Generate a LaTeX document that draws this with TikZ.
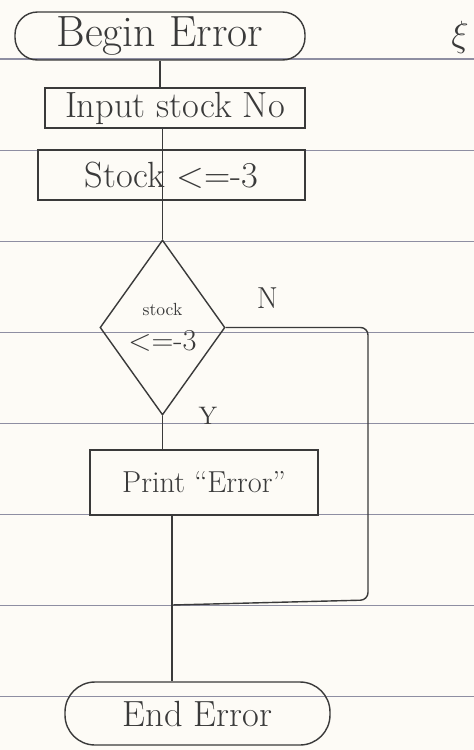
\documentclass[tikz,border=0pt]{standalone}
\usepackage{tikz}
\usepackage{xcolor}
\usetikzlibrary{shapes.geometric}
\usetikzlibrary{positioning}
\usetikzlibrary{arrows,calc}

\definecolor{paper}{HTML}{FDFBF6}
\definecolor{rule}{HTML}{8E8EA2}
\definecolor{pen}{HTML}{3A3A3A}

\begin{document}
\begin{tikzpicture} [
       auto,
       terminal/.style={rectangle, draw=pen, thick, text=pen, rounded corners=0.45cm,
               minimum width=5.8cm, minimum height=0.96cm, inner sep=0pt},
       process/.style={rectangle, draw=pen, thick, text=pen, inner sep=0pt},
       decision/.style={diamond, draw=pen, thick, text=pen, align=center,
               minimum width=2.5cm, minimum height=3.5cm, inner sep=0pt, aspect=0.7},
       texte/.style={text=pen},
       line/.style = {draw=pen, thick},
       node distance=1.44cm,
       ]
       \fill[paper] (0,0) rectangle (9.48,-15);
       \useasboundingbox (0,0) rectangle (9.48,-15);
       \foreach \y in {59,150,241,332,423,514,605,696}
         \draw[rule, line width=0.6pt] (0,-\y*0.02) -- (9.48,-\y*0.02);

       \node (begin) [terminal] at (3.2,-0.72) {\Huge Begin Error};
       \node (input) [process, below of = begin, xshift=0.3cm,
               minimum width=5.2cm, minimum height=0.8cm] {\huge Input stock No};
       \node (check) [process, below of = input, node distance=1.34cm, xshift=-0.07cm,
               minimum width=5.34cm, minimum height=1cm] {\huge Stock <=-3};
       \node (cond) [decision, below of = check, node distance=3.05cm, xshift=-0.18cm]
               {\normalsize stock\\[8pt]{\LARGE <=-3}};
       \node (print) [process, below of = cond, node distance=3.1cm, xshift=0.83cm,
               minimum width=4.56cm, minimum height=1.3cm] {\LARGE Print ``Error''};
       \node (end) [terminal, below of = print, node distance=4.62cm, xshift=-0.13cm,
               minimum width=5.3cm, minimum height=1.26cm, rounded corners=0.6cm] {\huge End Error};
       \node (no) [texte, above right = 0.25cm and 0.5cm of cond.east] {\LARGE N};
       \node (yes) [texte, right = 0.6cm of cond.south] {\Large Y};
       \node (mark) [texte] at (9.2,-0.75) {\huge $\xi$};

       \coordinate (merge) at (3.44,-12.1);
       \coordinate (ret) at (7.36,-12.0);
       \begin{scope}[every path/.style=line]
       \path (begin.south) -- (begin.south |- input.north);
       \path (input.south -| cond.north) -- (cond.north);
       \path (cond.south) -- (cond.south |- print.north);
       \path (merge |- print.south) -- (merge |- end.north);
       \path[rounded corners=0.15cm] (cond.east) -| (ret) -- (merge);
       \end{scope}
\end{tikzpicture}
\end{document}
